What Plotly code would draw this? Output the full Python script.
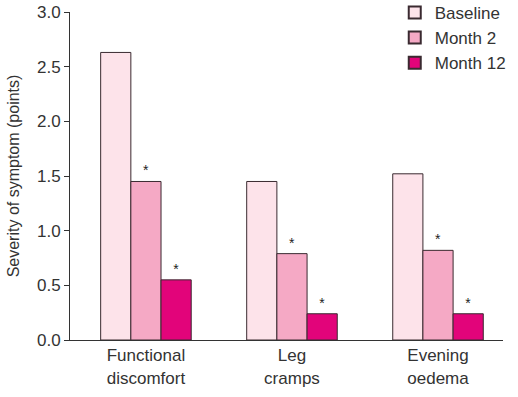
import plotly.graph_objects as go

categories = ["Functional<br>discomfort", "Leg<br>cramps", "Evening<br>oedema"]
series_names = ["Baseline", "Month 2", "Month 12"]
baseline = [2.63, 1.45, 1.52]
month2 = [1.45, 0.79, 0.82]
month12 = [0.55, 0.24, 0.24]
marks_month2 = ["*", "*", "*"]
marks_month12 = ["*", "*", "*"]
y_ticks = [0.0, 0.5, 1.0, 1.5, 2.0, 2.5, 3.0]

colors = ["#fde3ea", "#f5a9c5", "#e2047a"]
x = [0, 1, 2]
FONT = "Liberation Sans, Arial, sans-serif"

fig = go.Figure()
for name, vals, col, marks in [
    (series_names[0], baseline, colors[0], None),
    (series_names[1], month2, colors[1], marks_month2),
    (series_names[2], month12, colors[2], marks_month12),
]:
    fig.add_trace(go.Bar(
        x=x, y=vals, name=name,
        marker=dict(color=col, line=dict(color="#3a2a30", width=1)),
        text=marks, textposition="outside" if marks else None,
        textfont=dict(size=14, color="#222", family=FONT),
        cliponaxis=False,
    ))

fig.update_layout(
    width=518, height=397,
    margin=dict(l=70, r=15, t=12, b=57, autoexpand=False),
    paper_bgcolor="white", plot_bgcolor="white",
    barmode="group", bargap=0.38, bargroupgap=0,
    font=dict(family=FONT, color="#333", size=17),
    legend=dict(x=0.75, y=1.052, xanchor="left", yanchor="top",
                font=dict(size=17, color="#333", family=FONT), bgcolor="rgba(0,0,0,0)",
                tracegroupgap=0, itemsizing="constant"),
)
fig.update_xaxes(
    tickmode="array", tickvals=x, ticktext=categories,
    range=[-0.52, 2.445], showline=True, linecolor="#333", linewidth=1,
    ticks="", tickfont=dict(size=17, color="#333", family=FONT),
    showgrid=False, zeroline=False, automargin=False,
)
fig.update_yaxes(
    range=[0, 3], tickmode="array", tickvals=y_ticks,
    ticktext=[f"{v:.1f}" for v in y_ticks],
    showline=True, linecolor="#333", linewidth=1,
    ticks="outside", ticklen=5, tickcolor="#333",
    showgrid=False, zeroline=False, automargin=False,
    tickfont=dict(size=17, color="#333", family=FONT),
    title=dict(text="Severity of symptom (points)", font=dict(size=16, color="#333", family=FONT), standoff=13),
)
fig.write_html("out.html", config={"displayModeBar": False},
               post_script="document.body.style.margin='0';")
